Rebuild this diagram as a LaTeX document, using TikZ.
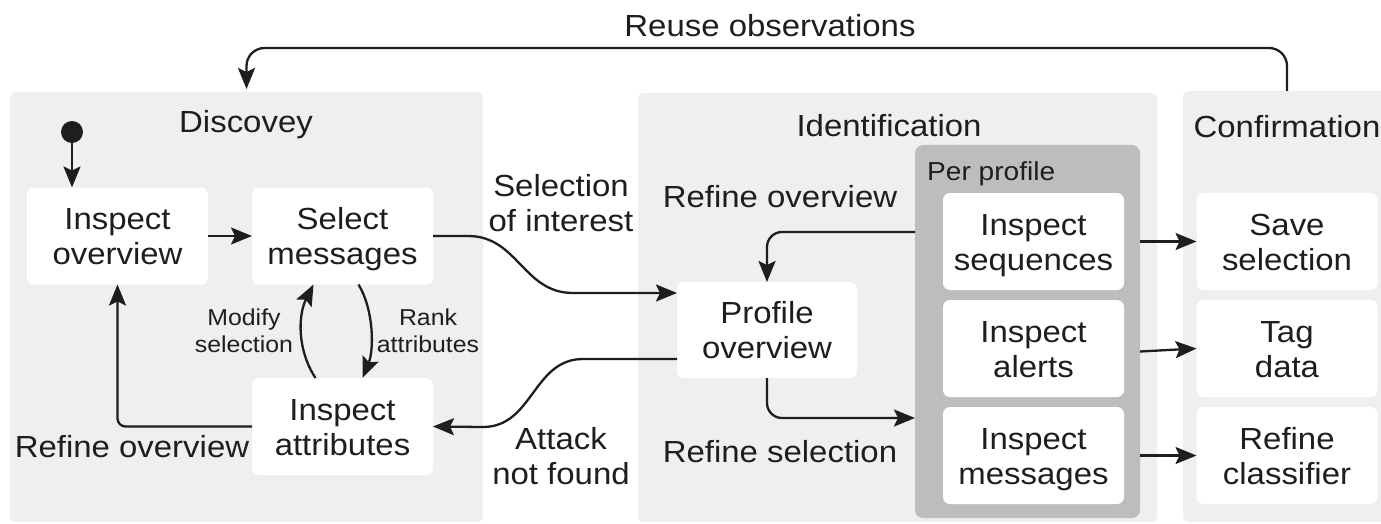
\documentclass[tikz,border=0pt]{standalone}
\usepackage{fontspec}
\setmainfont{Liberation Sans}[FakeStretch=1.08]
\usetikzlibrary{arrows.meta,calc}
\definecolor{panelgray}{HTML}{EFEFEF}
\definecolor{profgray}{HTML}{BDBDBD}
\definecolor{ink}{HTML}{1E1E1E}
\newcommand\fbig{\fontsize{30.5}{35}\selectfont}
\newcommand\fsmall{\fontsize{23}{26.5}\selectfont}
\newcommand\fmid{\fontsize{26}{30}\selectfont}
\begin{document}
\begin{tikzpicture}[x=1pt,y=-1pt,
 panel/.style={fill=panelgray, rounded corners=5pt, inner sep=0pt, outer sep=0pt},
 profbox/.style={fill=profgray, rounded corners=8pt, inner sep=0pt, outer sep=0pt},
 state/.style={fill=white, rounded corners=7pt, minimum width=181pt, minimum height=97pt, inner sep=0pt, outer sep=0pt, align=center, font=\fbig, text=ink, text height=57pt, text depth=0pt},
 lbl/.style={align=center, font=\fbig, text=ink, inner sep=0pt},
 slbl/.style={align=center, font=\fsmall, text=ink, inner sep=0pt},
 arr/.style={draw=ink, line width=2.3pt, -{Stealth[length=21pt,width=17pt,inset=4pt]}},
]
\useasboundingbox (0,0) rectangle (1381,524);
% panels
\node[panel, minimum width=473pt, minimum height=430pt] (disc) at (246.5,307) {};
\node[panel, minimum width=519pt, minimum height=429pt] (ident) at (897.5,307.5) {};
\node[panel, minimum width=212pt, minimum height=431pt] (conf) at (1289,306.5) {};
\node[profbox, minimum width=225pt, minimum height=373pt] (perprof) at (1027.5,331.5) {};
% titles
\node[lbl] (discT) at (246,125) {Discovey};
\node[lbl] (identT) at (889,126) {Identification};
\node[lbl] (confT) at (1287,127) {Confirmation};
\node[font=\fmid, text=ink, inner sep=0pt, anchor=base west] (perT) at (927,180) {Per profile};
\node[lbl] (reuse) at (770,26) {Reuse observations};
% states
\node[circle, fill=ink, minimum size=22pt, inner sep=0pt] (init) at (72,132) {};
\node[state] (io) at (117.5,236) {Inspect\\overview};
\node[state] (sm) at (342.5,236) {Select\\messages};
\node[state] (ia) at (342.5,426.5) {Inspect\\attributes};
\node[state, minimum width=180pt, minimum height=96pt] (po) at (767,330) {Profile\\overview};
\node[state] (seq) at (1033.5,241.5) {Inspect\\sequences};
\node[state] (alerts) at (1033.5,348.5) {Inspect\\alerts};
\node[state] (im) at (1033.5,455.5) {Inspect\\messages};
\node[state] (save) at (1287,241.5) {Save\\selection};
\node[state] (tag) at (1287,348.5) {Tag\\data};
\node[state] (refc) at (1287,455.5) {Refine\\classifier};
% labels
\node[lbl] (selint) at (561,203) {Selection\\of interest};
\node[lbl] (attnf) at (561,456) {Attack\\not found};
\node[lbl] (refovI) at (780,197) {Refine overview};
\node[lbl] (refsel) at (780,452) {Refine selection};
\node[lbl] (refovD) at (132,447) {Refine overview};
\node[slbl] (modsel) at (244,331) {Modify\\selection};
\node[slbl] (rank) at (428,331) {Rank\\attributes};
% connectors
\coordinate (loopy) at (0,48);
\draw[arr, rounded corners=18pt] (save |- conf.north) -- (save |- loopy) -- (disc.north |- loopy) -- ($(disc.north)+(0,-3)$);
\draw[arr] (init) -- (init |- io.north);
\draw[arr] (io) -- (sm);
\draw[arr] (sm.east) -- ++(35,0) .. controls +(50,0) and +(-50,0) .. ++(105,57) -- ($(po.west)+(0,-37)$);
\draw[arr] ($(po.west)+(0,29)$) -- ++(-94,0) .. controls +(-50,0) and +(50,0) .. ++(-100,68) -- (ia.east);
\draw[arr, rounded corners=15pt] (perprof.west |- 0,232) -| (po.north);
\draw[arr, rounded corners=15pt] (po.south) |- (perprof.west |- 0,418);
\draw[arr, rounded corners=8pt] (ia.west) -| (io.south);
\draw[arr] ($(ia.north)+(-27,0)$) .. controls (297,350) and (298,315) .. ($(sm.south)+(-29,0)$);
\draw[arr] ($(sm.south)+(16,0)$) .. controls (374,310) and (374,350) .. ($(ia.north)+(20,0)$);
\draw[arr] (perprof.east |- save.west) -- (save.west);
\draw[arr] ($(perprof.east |- tag.west)+(0,3)$) -- (tag.west);
\draw[arr] (perprof.east |- refc.west) -- (refc.west);
\end{tikzpicture}
\end{document}
